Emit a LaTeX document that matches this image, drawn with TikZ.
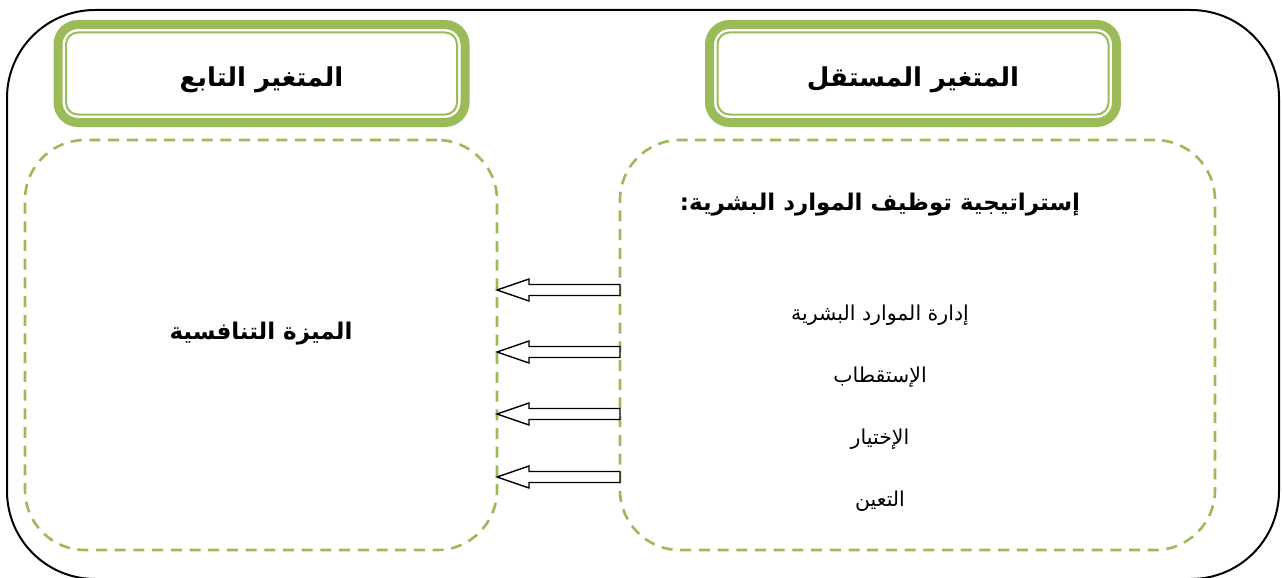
\documentclass[tikz,border=0pt]{standalone}
\usepackage{fontspec}
\TeXXeTstate=1
\newfontfamily\arabicfont[Script=Arabic]{DejaVu Sans}
\usetikzlibrary{calc}
\definecolor{olive}{HTML}{9BBB59}
\tikzset{
  frame/.style={draw=black, line width=2, rounded corners=88},
  hdr/.style={draw=olive, line width=9, rounded corners=20, outer sep=0, minimum width=407, minimum height=98, inner sep=0},
  hdrin/.style={draw=olive, line width=2, rounded corners=12},
  dbox/.style={draw=olive, line width=2.6, dash pattern=on 11pt off 7.7pt, rounded corners=60, outer sep=0, inner sep=0},
  hdrtxt/.style={font=\arabicfont\bfseries\fontsize{26}{30}\selectfont},
  bigtxt/.style={font=\arabicfont\bfseries\fontsize{23}{28}\selectfont},
  itemtxt/.style={font=\arabicfont\fontsize{20.5}{24}\selectfont},
  harrow/.style={draw=black, line width=1.4, fill=white}
}
\begin{document}
\begin{tikzpicture}[x=1pt,y=-1pt]
\useasboundingbox (0,0) rectangle (1282,578);
\draw[frame] (7,10) rectangle (1279,579);
% headers
\node[hdr] (hdrR) at (913,73.5) {};
\node[hdr] (hdrL) at (261.5,73.5) {};
\draw[hdrin] ($(hdrR.north west)+(8,8)$) rectangle ($(hdrR.south east)+(-8,-8)$);
\draw[hdrin] ($(hdrL.north west)+(8,8)$) rectangle ($(hdrL.south east)+(-8,-8)$);
\node[hdrtxt] (tR) at ($(hdrR)+(0,6)$) {\beginR المتغير المستقل\endR};
\node[hdrtxt] (tL) at ($(hdrL)+(0,6)$) {\beginR المتغير التابع\endR};
% dashed boxes
\node[dbox, minimum width=472, minimum height=410] (dep) at (261,345) {};
\node[dbox, minimum width=595, minimum height=410] (ind) at (917.5,345) {};
% texts
\node[bigtxt] (indT) at (880,205) {\beginR إستراتيجية توظيف الموارد البشرية:\endR};
\node[itemtxt] (i1) at (880,315) {\beginR إدارة الموارد البشرية\endR};
\node[itemtxt] (i2) at (880,377) {\beginR الإستقطاب\endR};
\node[itemtxt] (i3) at (880,439) {\beginR الإختيار\endR};
\node[itemtxt] (i4) at (880,501) {\beginR التعين\endR};
\node[bigtxt] (depT) at (261,334) {\beginR الميزة التنافسية\endR};
% arrows
\foreach \k/\yy in {1/290,2/352,3/414,4/477}{
  \coordinate (s\k) at (ind.west |- 0,\yy);
  \coordinate (e\k) at (dep.east |- 0,\yy);
  \draw[harrow] ($(s\k)+(0,-5.5)$) -- ($(e\k)+(32,-5.5)$) -- ($(e\k)+(32,-11)$) -- (e\k)
     -- ($(e\k)+(32,11)$) -- ($(e\k)+(32,5.5)$) -- ($(s\k)+(0,5.5)$) -- cycle;
}
\end{tikzpicture}
\end{document}
